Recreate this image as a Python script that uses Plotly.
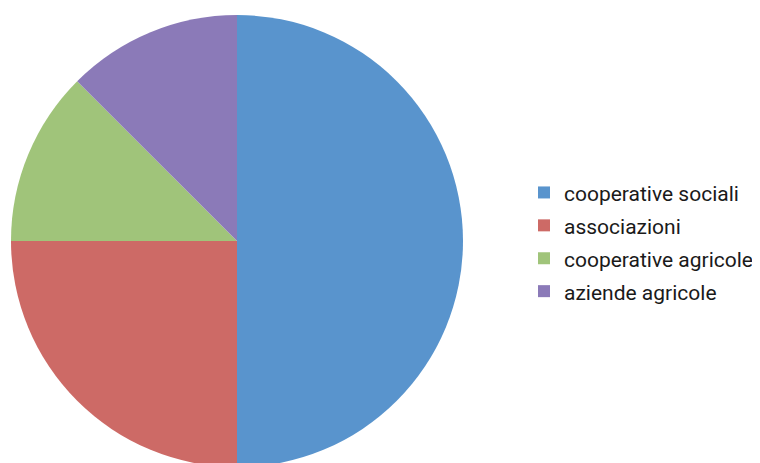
import plotly.graph_objects as go

labels = ["cooperative sociali", "associazioni", "cooperative agricole", "aziende agricole"]
values = [50, 25, 12.5, 12.5]
colors = ["#5994CD", "#CD6A66", "#A0C47A", "#8B7AB8"]

# legend row height follows the legend font size; the text itself is kept a bit smaller
legend_labels = ['<span style="font-size:21px">%s</span>' % l for l in labels]

fig = go.Figure()
fig.add_trace(go.Pie(
    labels=legend_labels,
    values=values,
    sort=False,
    direction="clockwise",
    rotation=0,
    textinfo="none",
    customdata=labels,
    hovertemplate="%{customdata}<br>%{percent}<extra></extra>",
    marker=dict(colors=colors, line=dict(width=0)),
    # page body adds an 8px offset, so positions are shifted accordingly
    domain=dict(x=[3 / 760, 455 / 760], y=[4 / 463, 456 / 463]),
))

fig.update_layout(
    width=760,
    height=463,
    margin=dict(l=0, r=0, t=0, b=0),
    paper_bgcolor="white",
    plot_bgcolor="white",
    font=dict(family="Roboto, sans-serif", color="#1a1a1a", size=21),
    legend=dict(
        x=516 / 760, y=1 - 234 / 463,
        xanchor="left", yanchor="middle",
        traceorder="normal",
        font=dict(size=23),
        itemwidth=30,
    ),
)

fig.write_html("out.html")
